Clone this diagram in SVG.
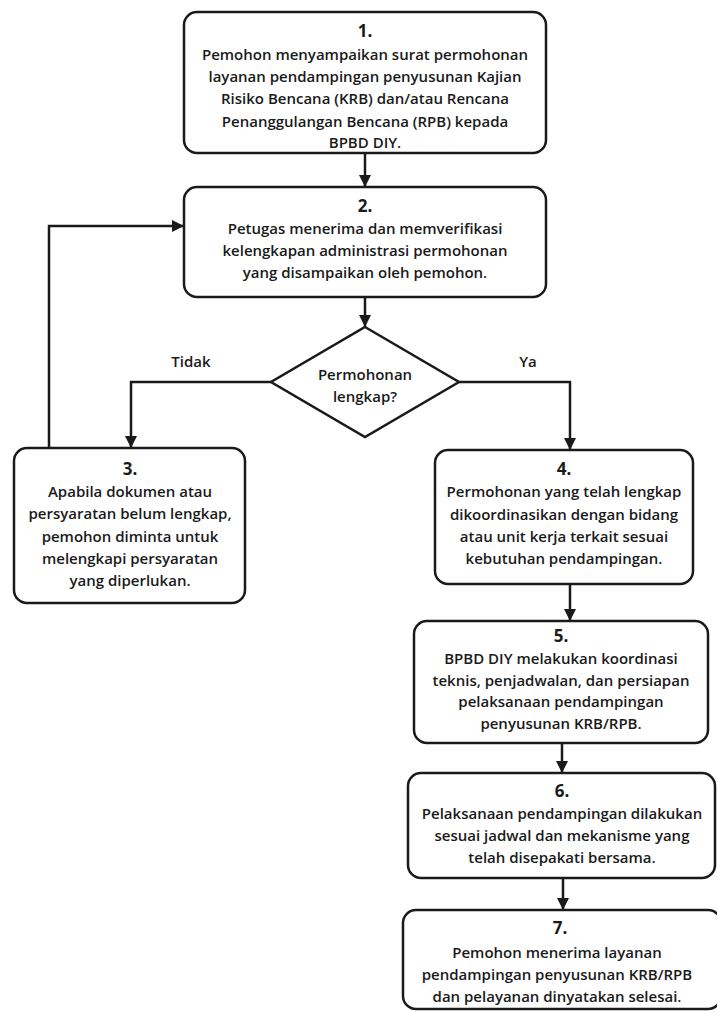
<svg xmlns="http://www.w3.org/2000/svg" width="717" height="1012" viewBox="0 0 717 1012">
<style>
.box{fill:#fff;stroke:#1a1a1a;stroke-width:2.5}
.t{font-family:"Open Sans","Liberation Sans",sans-serif;font-size:15px;font-weight:600;fill:#1a1a1a;text-anchor:middle}
.n{font-size:17px;font-weight:700}
.c{fill:none;stroke:#1a1a1a;stroke-width:2.5}
</style>
<defs>
<marker id="ah" markerUnits="userSpaceOnUse" markerWidth="14" markerHeight="14" refX="12" refY="6" orient="auto">
<path d="M0,0 L12,6 L0,12 z" fill="#1a1a1a"/>
</marker>
</defs>
<rect width="717" height="1012" fill="#fff"/>
<g id="connectors">
<path class="c" d="M365,153 V187" marker-end="url(#ah)"/>
<path class="c" d="M365,297 V327" marker-end="url(#ah)"/>
<path class="c" d="M271,382 H131 V448" marker-end="url(#ah)"/>
<path class="c" d="M459,382 H570 V450" marker-end="url(#ah)"/>
<path class="c" d="M49,448 V226 H184" marker-end="url(#ah)"/>
<path class="c" d="M570,584 V621" marker-end="url(#ah)"/>
<path class="c" d="M562,743 V773" marker-end="url(#ah)"/>
<path class="c" d="M563,878 V910" marker-end="url(#ah)"/>
<text class="t" x="191" y="367">Tidak</text>
<text class="t" x="528" y="367">Ya</text>
</g>
<g id="n1">
<rect class="box" x="184" y="12" width="362" height="141" rx="13"/>
<text class="t n" x="365" y="37">1.</text>
<text class="t" x="365" y="60">Pemohon menyampaikan surat permohonan</text>
<text class="t" x="365" y="82">layanan pendampingan penyusunan Kajian</text>
<text class="t" x="365" y="104">Risiko Bencana (KRB) dan/atau Rencana</text>
<text class="t" x="365" y="127">Penanggulangan Bencana (RPB) kepada</text>
<text class="t" x="365" y="148">BPBD DIY.</text>
</g>
<g id="n2">
<rect class="box" x="184" y="187" width="362" height="110" rx="13"/>
<text class="t n" x="365" y="212">2.</text>
<text class="t" x="365" y="234">Petugas menerima dan memverifikasi</text>
<text class="t" x="365" y="256">kelengkapan administrasi permohonan</text>
<text class="t" x="365" y="278">yang disampaikan oleh pemohon.</text>
</g>
<g id="d">
<polygon class="box" points="365,327 459,382 365,437 271,382"/>
<text class="t" x="365" y="380">Permohonan</text>
<text class="t" x="365" y="402">lengkap?</text>
</g>
<g id="n3">
<rect class="box" x="14" y="448" width="231" height="155" rx="13"/>
<text class="t n" x="130" y="475">3.</text>
<text class="t" x="130" y="497">Apabila dokumen atau</text>
<text class="t" x="130" y="519">persyaratan belum lengkap,</text>
<text class="t" x="130" y="542">pemohon diminta untuk</text>
<text class="t" x="130" y="564">melengkapi persyaratan</text>
<text class="t" x="130" y="586">yang diperlukan.</text>
</g>
<g id="n4">
<rect class="box" x="435" y="450" width="258" height="134" rx="13"/>
<text class="t n" x="564" y="475">4.</text>
<text class="t" x="564" y="497">Permohonan yang telah lengkap</text>
<text class="t" x="564" y="520">dikoordinasikan dengan bidang</text>
<text class="t" x="564" y="542">atau unit kerja terkait sesuai</text>
<text class="t" x="564" y="564">kebutuhan pendampingan.</text>
</g>
<g id="n5">
<rect class="box" x="414" y="621" width="294" height="122" rx="13"/>
<text class="t n" x="561" y="642">5.</text>
<text class="t" x="561" y="664">BPBD DIY melakukan koordinasi</text>
<text class="t" x="561" y="686">teknis, penjadwalan, dan persiapan</text>
<text class="t" x="561" y="707">pelaksanaan pendampingan</text>
<text class="t" x="561" y="729">penyusunan KRB/RPB.</text>
</g>
<g id="n6">
<rect class="box" x="408" y="773" width="307" height="105" rx="13"/>
<text class="t n" x="562" y="797">6.</text>
<text class="t" x="562" y="819">Pelaksanaan pendampingan dilakukan</text>
<text class="t" x="562" y="841">sesuai jadwal dan mekanisme yang</text>
<text class="t" x="562" y="863">telah disepakati bersama.</text>
</g>
<g id="n7">
<rect class="box" x="403" y="910" width="318" height="99" rx="13"/>
<text class="t n" x="560" y="934">7.</text>
<text class="t" x="557" y="958">Pemohon menerima layanan</text>
<text class="t" x="557" y="980">pendampingan penyusunan KRB/RPB</text>
<text class="t" x="557" y="1002">dan pelayanan dinyatakan selesai.</text>
</g>
</svg>
